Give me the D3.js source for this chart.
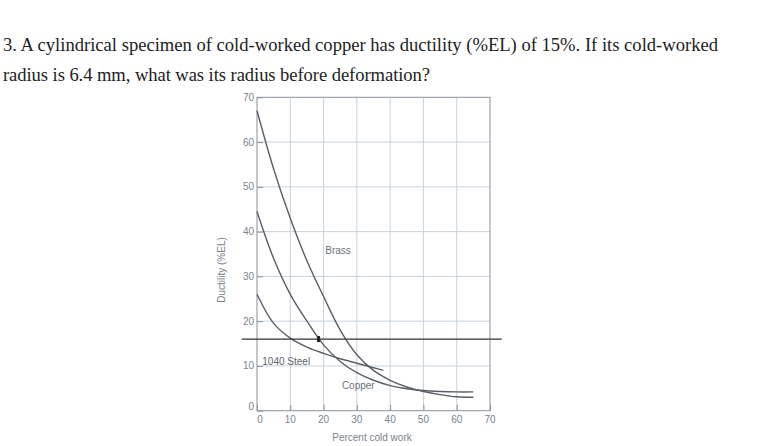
<!DOCTYPE html>
<html><head><meta charset="utf-8">
<script src="https://cdn.jsdelivr.net/npm/d3@7"></script>
<style>body{margin:0;background:#fff}</style></head>
<body><svg id="c" width="764" height="446"></svg>
<script>
const brass = [[0,67],[5,54],[10,43],[15,33.5],[20,25.5],[25,18],[30,12.5],[35,9],[40,6.8],[45,5.3],[50,4.3],[55,3.6],[60,3.1],[65,3]];
const copper = [[0,44.5],[5,34],[10,26],[15,20],[20,14.7],[25,11],[30,8.5],[35,6.8],[40,5.6],[45,4.9],[50,4.5],[55,4.3],[60,4.2],[65,4.2]];
const steel = [[0,26],[5,19.5],[10,16.2],[15,14.2],[20,12.8],[25,11.6],[30,10.6],[35,9.6],[38,9]];
const xTicks = [0,10,20,30,40,50,60,70];
const yTicks = [0,10,20,30,40,50,60,70];
const refLine = 16;
const marker = [18.5,16];

const svg = d3.select("#c");
const x = d3.scaleLinear().domain([0,70]).range([257,490]);
const y = d3.scaleLinear().domain([0,70]).range([410.7,97.3]);

const q = svg.append("g").attr("font-family","Liberation Serif").attr("font-size",18.6).attr("fill","#222");
q.append("text").attr("x",3).attr("y",51).attr("textLength",715)
  .text("3. A cylindrical specimen of cold-worked copper has ductility (%EL) of 15%.  If its cold-worked");
q.append("text").attr("x",3).attr("y",81).attr("textLength",427)
  .text("radius is 6.4 mm, what was its radius before deformation?");

const grid = svg.append("g").attr("stroke","#c9d2dc").attr("stroke-width",1);
xTicks.slice(1,-1).forEach(t=>grid.append("line").attr("x1",x(t)).attr("x2",x(t)).attr("y1",y(70)).attr("y2",y(0)));
yTicks.slice(1,-1).forEach(t=>grid.append("line").attr("x1",x(0)).attr("x2",x(70)).attr("y1",y(t)).attr("y2",y(t)));
svg.append("rect").attr("x",x(0)).attr("y",y(70)).attr("width",x(70)-x(0)).attr("height",y(0)-y(70))
  .attr("fill","none").attr("stroke","#8a929c");

const ax = svg.append("g").attr("transform",`translate(0,${y(0)})`)
  .call(d3.axisTop(x).tickValues(xTicks).tickSize(6).tickFormat(""));
ax.select(".domain").remove(); ax.selectAll("line").attr("stroke","#8a929c");
const ay = svg.append("g").attr("transform",`translate(${x(0)},0)`)
  .call(d3.axisRight(y).tickValues(yTicks).tickSize(6).tickFormat(""));
ay.select(".domain").remove(); ay.selectAll("line").attr("stroke","#8a929c");

const lab = svg.append("g").attr("font-family","Liberation Sans").attr("font-size",10).attr("fill","#7a828c");
xTicks.forEach(t=>lab.append("text").attr("x",x(t)+(t===0?3:0)).attr("y",y(0)+12).attr("text-anchor","middle").text(t));
yTicks.forEach(t=>lab.append("text").attr("x",x(0)-3).attr("y",y(t)+(t===0?-1:3.5)).attr("text-anchor","end").text(t));
lab.append("text").attr("x",372).attr("y",441).attr("text-anchor","middle").text("Percent cold work");
lab.append("text").attr("transform","translate(225,270) rotate(-90)").attr("text-anchor","middle").text("Ductility (%EL)");

const line = d3.line().x(d=>x(d[0])).y(d=>y(d[1])).curve(d3.curveCatmullRom);
[brass,copper,steel].forEach(s=>svg.append("path").attr("d",line(s)).attr("fill","none").attr("stroke","#5a5f66").attr("stroke-width",1.4));

svg.append("line").attr("x1",241.7).attr("x2",501.7).attr("y1",y(refLine)).attr("y2",y(refLine)).attr("stroke","#333").attr("stroke-width",1.3);
svg.append("rect").attr("x",x(marker[0])-1.5).attr("y",y(marker[1])-3).attr("width",3).attr("height",6).attr("fill","#222");

const cl = svg.append("g").attr("font-family","Liberation Sans").attr("font-size",10).attr("fill","#6a727c");
cl.append("text").attr("x",x(20.5)).attr("y",y(35)).text("Brass");
cl.append("text").attr("x",x(1.6)).attr("y",y(10.3)).attr("fill","#5a626c").text("1040 Steel");
cl.append("text").attr("x",x(25.5)).attr("y",y(4.8)).text("Copper");
</script></body></html>
